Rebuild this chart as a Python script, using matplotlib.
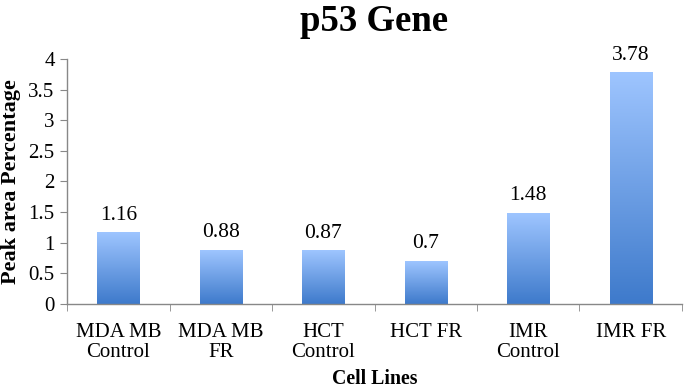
import matplotlib
matplotlib.use("Agg")
import matplotlib.pyplot as plt
import numpy as np
from matplotlib.colors import LinearSegmentedColormap

categories = ["MDA MB\nControl", "MDA MB\nFR", "HCT\nControl", "HCT FR", "IMR\nControl", "IMR FR"]
values = [1.16, 0.88, 0.87, 0.7, 1.48, 3.78]
value_labels = ["1.16", "0.88", "0.87", "0.7", "1.48", "3.78"]
yticks = [0, 0.5, 1, 1.5, 2, 2.5, 3, 3.5, 4]
ytick_labels = ["0", "0.5", "1", "1.5", "2", "2.5", "3", "3.5", "4"]

plt.rcParams['font.family'] = ['Liberation Serif', 'DejaVu Serif']

fig = plt.figure(figsize=(6.85, 3.88), dpi=100)
ax = fig.add_axes([0.098, 0.2165, 0.8975, 0.6315])

x = np.arange(len(categories))
bars = ax.bar(x, values, width=0.41, color='none', edgecolor='none', zorder=2)

cmap = LinearSegmentedColormap.from_list("g", ["#3E7ACB", "#9EC5FF"])
grad = np.linspace(0, 1, 256).reshape(-1, 1)
for b in bars:
    x0, y0 = b.get_x(), b.get_y()
    w, h = b.get_width(), b.get_height()
    ax.imshow(grad, cmap=cmap, origin='lower', aspect='auto',
              extent=[x0, x0 + w, y0, y0 + h], zorder=2)

for xi, v, lab in zip(x, values, value_labels):
    ax.text(xi, v + 0.21, lab, ha='center', va='baseline', fontsize=15.5)

ax.set_xlim(-0.5, len(categories) - 0.5)
ax.set_ylim(0, 4)
ax.set_yticks(yticks)
ax.set_yticklabels(ytick_labels, fontsize=15)
ax.set_xticks(x)
ax.set_xticklabels(categories, fontsize=15, linespacing=1.05)
ax.set_xticks(np.arange(-0.5, len(categories), 1.0), minor=True)
ax.tick_params(axis='x', which='major', length=0, pad=14)
ax.tick_params(axis='x', which='minor', length=5, color='#888888', direction='out')
ax.tick_params(axis='y', length=5, color='#888888', direction='out', pad=4)

for s in ['top', 'right']:
    ax.spines[s].set_visible(False)
for s in ['left', 'bottom']:
    ax.spines[s].set_color('#888888')
    ax.spines[s].set_linewidth(1.0)

ax.set_ylabel("Peak area Percentage", fontsize=16, fontweight='bold', labelpad=5)
ax.set_xlabel("Cell Lines", fontsize=14.3, fontweight='bold')
ax.xaxis.set_label_coords(0.5, -0.267)
ax.set_title("p53 Gene", fontsize=26.5, fontweight='bold', pad=20)

fig.savefig("out.png", dpi=100)
